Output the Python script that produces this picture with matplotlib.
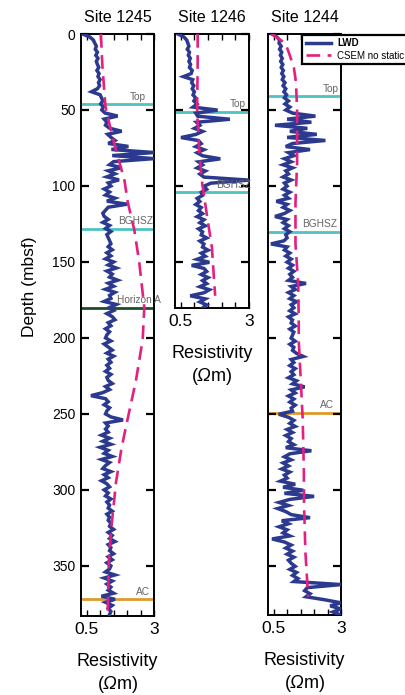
import numpy as np
import matplotlib
matplotlib.use("Agg")
import matplotlib.pyplot as plt
import matplotlib.transforms as mtransforms

plt.rcParams['font.family'] = ['Liberation Sans', 'DejaVu Sans']
plt.rcParams['mathtext.fontset'] = 'custom'
plt.rcParams['mathtext.rm'] = 'Liberation Sans'
plt.rcParams['mathtext.it'] = 'Liberation Sans:italic'
plt.rcParams['mathtext.sf'] = 'Liberation Sans:italic'

# ---------------- data ----------------
sites = ["Site 1245", "Site 1246", "Site 1244"]
depth_step = 2.0

lwd_1245 = [
    0.35, 0.62, 0.75, 0.80, 0.86, 0.82, 0.90, 0.84, 0.92, 0.86,
    0.90, 0.95, 0.88, 0.96, 0.92, 1.00, 0.94, 0.98, 0.90, 0.68,
    1.00, 1.05, 1.10, 1.02, 1.12, 1.06, 1.18, 1.65, 1.15, 1.25,
    1.20, 1.35, 1.80, 1.28, 1.40, 1.55, 1.30, 2.05, 1.42, 3.00,
    1.45, 3.00, 1.50, 1.35, 1.80, 1.30, 1.55, 1.25, 1.70, 1.30,
    1.40, 1.15, 1.35, 1.20, 1.55, 1.25, 2.00, 1.30, 1.20, 1.10,
    1.15, 1.30, 1.10, 1.35, 1.20, 1.40, 1.25, 1.30, 1.35, 1.40,
    1.30, 1.45, 1.25, 1.40, 1.20, 1.50, 1.30, 1.60, 1.25, 1.45,
    1.35, 1.65, 1.30, 1.50, 1.20, 1.55, 1.35, 1.40, 1.15, 1.60,
    1.35, 1.50, 1.25, 1.45, 1.55, 1.30, 1.40, 1.20, 1.35, 1.25,
    1.20, 1.40, 1.15, 1.30, 1.45, 1.25, 1.50, 1.30, 1.40, 1.25,
    1.35, 1.20, 1.40, 1.25, 1.30, 1.45, 1.20, 1.35, 1.10, 0.66,
    1.20, 1.30, 1.15, 1.35, 1.25, 1.20, 1.40, 1.85, 1.20, 1.30,
    1.20, 1.30, 1.05, 1.35, 1.10, 1.40, 1.00, 1.30, 1.15, 1.45,
    1.05, 1.35, 1.20, 1.10, 1.40, 1.15, 1.30, 1.05, 1.25, 1.35,
    1.15, 1.30, 1.20, 1.40, 1.25, 1.35, 1.30, 1.45, 1.25, 1.35,
    1.30, 1.40, 1.35, 1.50, 1.30, 1.45, 1.35, 1.55, 1.30, 1.40,
    1.35, 1.50, 1.30, 1.45, 1.25, 1.40, 1.35, 1.20, 1.55, 1.15,
    1.45, 1.25, 1.40, 1.30, 1.50, 1.05, 1.55, 1.20, 1.45, 1.30, 1.40, 1.35,
]

lwd_1246 = [
    0.40, 0.62, 0.72, 0.76, 0.80, 0.74, 0.82, 0.78, 0.85, 0.80,
    0.86, 0.82, 0.92, 0.88, 0.60, 0.94, 0.90, 0.98, 0.92, 1.00,
    0.95, 1.05, 0.98, 1.10, 0.95, 1.85, 1.05, 1.12, 2.30, 1.08,
    1.20, 1.00, 1.30, 1.05, 0.51, 1.15, 1.25, 1.05, 1.35, 1.10,
    1.30, 1.95, 1.15, 1.30, 1.10, 1.40, 1.20, 1.35, 3.00, 1.60,
    1.35, 1.45, 1.25, 1.30, 1.10, 1.20, 1.05, 1.25, 1.15, 1.30,
    1.10, 1.35, 1.20, 1.40, 1.15, 1.30, 1.25, 1.45, 1.20, 1.35,
    1.30, 1.50, 1.25, 1.40, 1.10, 1.55, 0.90, 1.35, 1.45, 1.25,
    1.50, 1.30, 1.45, 1.20, 1.55, 1.35, 0.85, 1.40, 1.20, 1.45, 1.30,
]

lwd_1244 = [
    0.44, 0.62, 0.72, 0.70, 0.78, 0.72, 0.80, 0.75, 0.82, 0.76,
    0.84, 0.78, 0.86, 0.80, 0.88, 0.82, 0.92, 0.85, 0.95, 0.88,
    0.98, 0.90, 1.05, 0.92, 1.10, 0.95, 1.20, 2.05, 1.00, 1.90,
    0.55, 1.75, 1.10, 2.10, 1.00, 2.42, 1.20, 0.95, 1.85, 1.05,
    1.25, 0.90, 1.15, 0.85, 1.20, 0.95, 1.05, 0.85, 1.15, 0.90,
    1.00, 0.85, 1.10, 0.90, 1.05, 0.60, 1.00, 0.85, 1.10, 0.90,
    0.55, 1.00, 0.85, 1.05, 0.90, 1.10, 0.95, 1.00, 0.88, 0.40,
    1.00, 0.90, 1.10, 0.95, 1.15, 1.00, 1.20, 1.05, 1.25, 1.10,
    1.20, 1.05, 1.70, 1.15, 1.30, 1.05, 1.25, 1.10, 1.35, 1.15,
    1.25, 1.10, 1.30, 1.05, 1.20, 1.15, 1.30, 1.10, 1.25, 1.20,
    1.15, 1.30, 1.10, 1.25, 1.20, 1.35, 1.60, 1.15, 1.25, 1.10,
    1.30, 1.15, 1.25, 1.05, 1.35, 1.20, 1.65, 1.15, 1.30, 1.05,
    1.25, 1.10, 1.30, 1.15, 1.20, 0.69, 1.05, 1.25, 1.10, 1.30,
    1.00, 1.20, 0.95, 1.15, 1.05, 1.25, 0.95, 1.90, 1.10, 0.90,
    1.15, 0.85, 1.05, 0.80, 1.10, 0.90, 1.00, 0.75, 1.30, 0.85,
    1.60, 0.90, 2.00, 1.10, 0.70, 1.05, 0.65, 0.95, 1.15, 1.85,
    0.80, 1.05, 0.70, 1.00, 0.85, 1.10, 0.44, 0.90, 1.15, 0.95,
    1.20, 1.00, 1.25, 1.05, 1.15, 1.30, 1.10, 1.35, 1.20, 1.40,
    1.25, 3.00, 1.75, 1.65, 1.85, 1.70, 2.40, 3.00, 2.60, 3.00, 2.70, 3.00,
]

csem_1245_depth = [0, 20, 46, 50, 74, 96, 111, 129, 150, 180, 201, 228, 260, 274, 295, 326, 348, 383]
csem_1245_res = [1.03, 1.08, 1.19, 1.22, 1.55, 1.90, 2.03, 2.27, 2.45, 2.64, 2.58, 2.33, 1.94, 1.78, 1.59, 1.41, 1.32, 1.28]

csem_1246_depth = [0, 19, 50, 74, 96, 118, 140, 172]
csem_1246_res = [1.12, 1.12, 1.10, 1.17, 1.27, 1.45, 1.64, 1.76]

csem_1244_depth = [0, 6, 12, 22, 32, 50, 85, 111, 138, 164, 186, 201, 236, 254, 287, 311, 341, 370]
csem_1244_res = [0.42, 0.93, 1.06, 1.25, 1.33, 1.37, 1.37, 1.31, 1.31, 1.41, 1.43, 1.43, 1.53, 1.58, 1.62, 1.63, 1.68, 1.78]

horizons_1245 = ["Top", "BGHSZ", "Horizon A", "AC"]
horizon_depths_1245 = [46, 128, 180, 372]
horizons_1246 = ["Top", "BGHSZ"]
horizon_depths_1246 = [51, 104]
horizons_1244 = ["Top", "BGHSZ", "AC"]
horizon_depths_1244 = [41, 130, 249]

xticks = [0.5, 1.0, 1.5, 2.0, 2.5, 3.0]
xticklabels = ["0.5", "", "", "", "", "3"]
yticks = [0, 50, 100, 150, 200, 250, 300, 350]

# ---------------- style ----------------
NAVY = '#2b3a8f'
PINK = '#e3207f'
hcolors = {"Top": '#4fc3c3', "BGHSZ": '#4fc3c3', "Horizon A": '#1d4d2a', "AC": '#dd9b2c'}

W, H = 406, 695
fig = plt.figure(figsize=(W / 100, H / 100), dpi=100)

def frac(l, t, r, b):
    return [l / W, 1 - b / H, (r - l) / W, (b - t) / H]

ax45 = fig.add_axes(frac(81, 34, 154, 616))
ax46 = fig.add_axes(frac(175, 34, 249, 308))
ax44 = fig.add_axes(frac(268, 34, 341, 615))

panels = [
    (ax45, lwd_1245, csem_1245_depth, csem_1245_res, horizons_1245, horizon_depths_1245, 383,
     [(0.89, 'right'), (0.99, 'right'), (0.50, 'left'), (0.945, 'right')]),
    (ax46, lwd_1246, csem_1246_depth, csem_1246_res, horizons_1246, horizon_depths_1246, 180,
     [(0.96, 'right'), (1.03, 'right')]),
    (ax44, lwd_1244, csem_1244_depth, csem_1244_res, horizons_1244, horizon_depths_1244, 382,
     [(0.97, 'right'), (0.945, 'right'), (0.90, 'right')]),
]

for i, (ax, lwd, cd, cr, hn, hd, ymax, tpos) in enumerate(panels):
    depths = np.arange(len(lwd)) * depth_step
    for name, d in zip(hn, hd):
        ax.axhline(d, color=hcolors[name], lw=2.0, zorder=1)
    l1, = ax.plot(lwd, depths, color=NAVY, lw=2.5, solid_joinstyle='miter', zorder=3, label='LWD')
    l2, = ax.plot(cr, cd, color=PINK, lw=1.9, ls=(0, (5.2, 2.8)), zorder=4, label='CSEM no static')
    trans = mtransforms.blended_transform_factory(ax.transAxes, ax.transData)
    for (name, d), (xf, ha) in zip(zip(hn, hd), tpos):
        ax.text(xf, d - 1.5, name, transform=trans, ha=ha, va='bottom', fontsize=7.3,
                color='#666666', zorder=5, clip_on=False)
    ax.set_xticks(xticks)
    ax.set_xticklabels(xticklabels)
    ax.set_yticks(yticks)
    ax.set_xlim(0.29, 3.0)
    ax.set_ylim(ymax, 0)
    ax.tick_params(axis='x', direction='in', top=True, bottom=True, length=4, width=1.0,
                   labelsize=12.5, pad=4)
    ax.tick_params(axis='y', direction='in', left=True, right=True, length=6, width=1.6,
                   labelsize=10, pad=4)
    for sp in ax.spines.values():
        sp.set_linewidth(1.4)
    if i != 0:
        ax.set_yticklabels([])
    ax.set_title(sites[i], fontsize=11.5, pad=9)
    ax.set_xlabel("Resistivity\n" + r"($\mathsf{Ω}$m)", fontsize=13, linespacing=1.25, labelpad=12)
    if i == 0:
        ax.set_ylabel("Depth (mbsf)", fontsize=12.5, labelpad=4)
        ax.yaxis.set_label_coords(-0.6, 0.565)
    if i == 2:
        handles = [l1, l2]

leg = fig.legend(handles, ['LWD', 'CSEM no static'], loc='upper left',
                 bbox_to_anchor=(302.5 / W, 1 - 35 / H), fontsize=7, frameon=True,
                 fancybox=False, framealpha=1, edgecolor='black', borderpad=0.35,
                 labelspacing=0.25, handlelength=2.6, handletextpad=0.6, borderaxespad=0)
leg.get_frame().set_linewidth(1.6)
leg.get_texts()[0].set_fontweight('bold')

fig.savefig('out.png', dpi=100)
